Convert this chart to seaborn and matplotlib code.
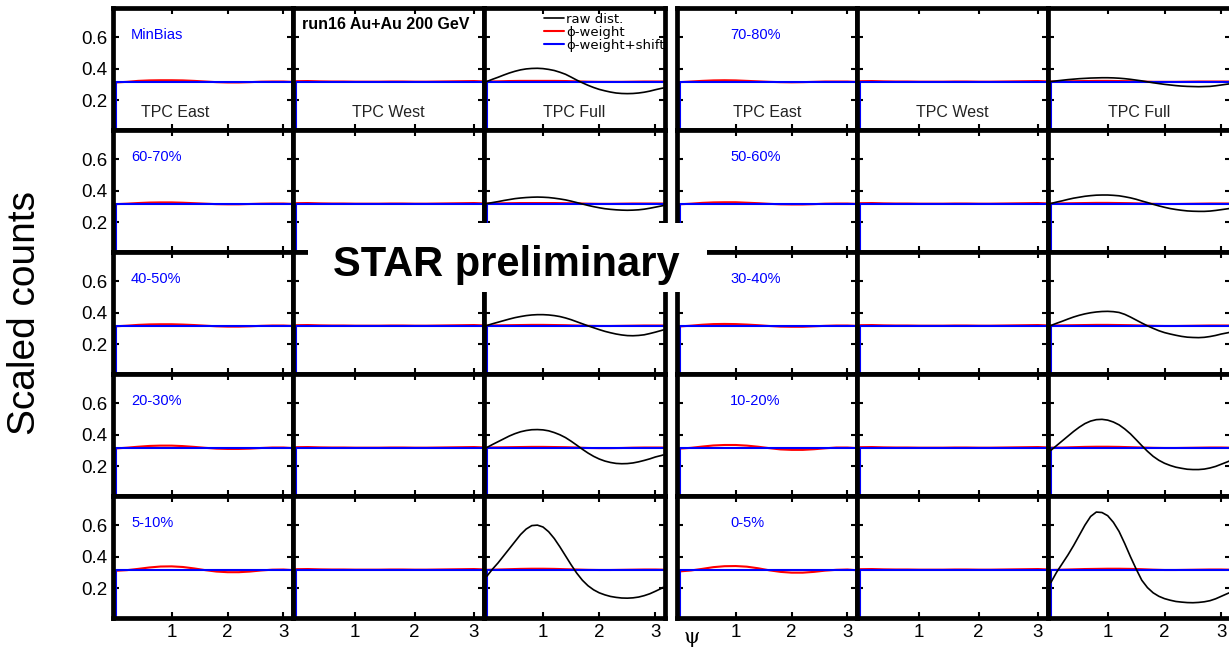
import matplotlib
matplotlib.use("Agg")
import matplotlib.pyplot as plt
import seaborn as sns
from matplotlib.patches import Rectangle
from matplotlib.lines import Line2D

sns.set_theme(style="white")
plt.rcParams['font.family'] = ['Liberation Sans', 'DejaVu Sans']
plt.rcParams.update({'axes.edgecolor': 'black', 'xtick.color': 'black', 'ytick.color': 'black',
                     'text.color': 'black', 'axes.labelcolor': 'black'})

# ---------------- data ----------------
# abscissa of the raw distributions (fine) and of the corrected ones (coarse)
x_raw = [0.0, 0.1, 0.2, 0.3, 0.4, 0.5, 0.6, 0.7, 0.8, 0.9, 1.0, 1.1, 1.2, 1.3, 1.4, 1.5, 1.6,
         1.7, 1.8, 1.9, 2.0, 2.1, 2.2, 2.3, 2.4, 2.5, 2.6, 2.7, 2.8, 2.9, 3.0, 3.1, 3.14]
x_pts = [0.0, 0.2, 0.4, 0.6, 0.8, 1.0, 1.2, 1.4, 1.6, 1.8, 2.0, 2.2, 2.4, 2.6, 2.8, 3.0, 3.14]

left_labels = ["MinBias", "60-70%", "40-50%", "20-30%", "5-10%"]
right_labels = ["70-80%", "50-60%", "30-40%", "10-20%", "0-5%"]
detector_labels = ["TPC East", "TPC West", "TPC Full"]
x_ticks = [1, 2, 3]
y_ticks = [0.2, 0.4, 0.6]

# raw distribution, TPC Full
raw_minbias = [0.318, 0.332, 0.345, 0.359, 0.372, 0.383, 0.392, 0.398, 0.401, 0.402, 0.400, 0.395, 0.388,
               0.377, 0.364, 0.346, 0.327, 0.310, 0.294, 0.280, 0.268, 0.259, 0.251, 0.245, 0.242, 0.241,
               0.242, 0.245, 0.250, 0.257, 0.266, 0.274, 0.277]
raw_60_70 = [0.318, 0.324, 0.330, 0.337, 0.343, 0.349, 0.353, 0.356, 0.358, 0.359, 0.358, 0.356, 0.352,
             0.347, 0.341, 0.333, 0.324, 0.315, 0.306, 0.298, 0.291, 0.285, 0.281, 0.278, 0.276, 0.275,
             0.276, 0.278, 0.282, 0.288, 0.295, 0.302, 0.305]
raw_40_50 = [0.318, 0.329, 0.339, 0.349, 0.359, 0.368, 0.375, 0.381, 0.385, 0.387, 0.387, 0.385, 0.381,
             0.375, 0.366, 0.355, 0.342, 0.329, 0.316, 0.304, 0.292, 0.281, 0.272, 0.264, 0.258, 0.254,
             0.253, 0.255, 0.259, 0.267, 0.276, 0.286, 0.290]
raw_20_30 = [0.318, 0.337, 0.355, 0.373, 0.391, 0.406, 0.418, 0.426, 0.431, 0.432, 0.430, 0.424, 0.413,
             0.399, 0.381, 0.358, 0.333, 0.307, 0.283, 0.262, 0.245, 0.232, 0.223, 0.217, 0.215, 0.216,
             0.220, 0.227, 0.236, 0.246, 0.258, 0.267, 0.271]
raw_5_10 = [0.275, 0.320, 0.360, 0.405, 0.450, 0.495, 0.540, 0.575, 0.597, 0.600, 0.588, 0.558, 0.515,
            0.462, 0.405, 0.348, 0.295, 0.250, 0.215, 0.189, 0.170, 0.157, 0.147, 0.141, 0.137, 0.136,
            0.138, 0.143, 0.152, 0.164, 0.180, 0.197, 0.205]
raw_70_80 = [0.318, 0.322, 0.326, 0.330, 0.333, 0.336, 0.338, 0.340, 0.341, 0.342, 0.342, 0.341, 0.339,
             0.336, 0.332, 0.327, 0.322, 0.316, 0.310, 0.305, 0.300, 0.296, 0.292, 0.289, 0.287, 0.286,
             0.285, 0.286, 0.287, 0.291, 0.296, 0.301, 0.303]
raw_50_60 = [0.318, 0.327, 0.335, 0.344, 0.352, 0.358, 0.364, 0.368, 0.371, 0.372, 0.372, 0.370, 0.367,
             0.361, 0.354, 0.345, 0.334, 0.324, 0.313, 0.303, 0.294, 0.286, 0.280, 0.275, 0.271, 0.269,
             0.268, 0.268, 0.270, 0.274, 0.279, 0.284, 0.286]
raw_30_40 = [0.318, 0.332, 0.345, 0.359, 0.372, 0.383, 0.392, 0.399, 0.404, 0.407, 0.408, 0.406, 0.401,
             0.389, 0.372, 0.353, 0.334, 0.316, 0.300, 0.285, 0.273, 0.264, 0.256, 0.249, 0.244, 0.242,
             0.241, 0.243, 0.248, 0.255, 0.264, 0.271, 0.274]
raw_10_20 = [0.300, 0.330, 0.360, 0.390, 0.420, 0.447, 0.470, 0.486, 0.495, 0.497, 0.492, 0.480, 0.462,
             0.436, 0.405, 0.368, 0.330, 0.294, 0.262, 0.237, 0.218, 0.204, 0.193, 0.186, 0.180, 0.178,
             0.178, 0.181, 0.188, 0.198, 0.212, 0.226, 0.232]
raw_0_5 = [0.235, 0.300, 0.355, 0.410, 0.470, 0.535, 0.600, 0.655, 0.683, 0.680, 0.660, 0.618, 0.560,
           0.483, 0.400, 0.322, 0.250, 0.203, 0.170, 0.148, 0.133, 0.123, 0.115, 0.111, 0.108, 0.107,
           0.109, 0.113, 0.120, 0.132, 0.148, 0.164, 0.170]

# phi-weight, TPC East
phi_east_minbias = [0.312, 0.316, 0.322, 0.325, 0.326, 0.326, 0.325, 0.322, 0.318, 0.314, 0.312, 0.312, 0.314, 0.317, 0.318, 0.318, 0.316]
phi_east_60_70 = [0.314, 0.317, 0.321, 0.324, 0.325, 0.325, 0.323, 0.320, 0.317, 0.314, 0.313, 0.313, 0.315, 0.317, 0.318, 0.318, 0.316]
phi_east_40_50 = [0.313, 0.317, 0.322, 0.325, 0.326, 0.326, 0.324, 0.321, 0.317, 0.313, 0.311, 0.311, 0.313, 0.316, 0.318, 0.318, 0.316]
phi_east_20_30 = [0.312, 0.317, 0.323, 0.328, 0.330, 0.330, 0.327, 0.322, 0.316, 0.311, 0.309, 0.309, 0.311, 0.315, 0.318, 0.318, 0.315]
phi_east_5_10 = [0.310, 0.314, 0.322, 0.331, 0.337, 0.338, 0.334, 0.325, 0.314, 0.305, 0.301, 0.301, 0.305, 0.312, 0.317, 0.318, 0.315]
phi_east_70_80 = [0.314, 0.318, 0.322, 0.325, 0.326, 0.325, 0.322, 0.319, 0.316, 0.314, 0.313, 0.314, 0.316, 0.318, 0.318, 0.318, 0.316]
phi_east_50_60 = [0.313, 0.317, 0.322, 0.325, 0.326, 0.326, 0.323, 0.320, 0.316, 0.313, 0.312, 0.312, 0.314, 0.317, 0.318, 0.318, 0.316]
phi_east_30_40 = [0.312, 0.317, 0.323, 0.327, 0.328, 0.327, 0.324, 0.320, 0.315, 0.311, 0.310, 0.310, 0.313, 0.316, 0.318, 0.318, 0.316]
phi_east_10_20 = [0.311, 0.316, 0.324, 0.331, 0.334, 0.334, 0.330, 0.323, 0.314, 0.306, 0.303, 0.303, 0.307, 0.313, 0.318, 0.318, 0.315]
phi_east_0_5 = [0.306, 0.312, 0.322, 0.333, 0.339, 0.340, 0.336, 0.326, 0.313, 0.303, 0.298, 0.298, 0.303, 0.311, 0.316, 0.318, 0.314]

# phi-weight, TPC West (same in every class)
phi_west = [0.320, 0.321, 0.319, 0.318, 0.318, 0.317, 0.317, 0.317, 0.318, 0.318, 0.317, 0.317, 0.318, 0.319, 0.320, 0.321, 0.319]

# phi-weight, TPC Full
phi_full_minbias = [0.318, 0.319, 0.321, 0.322, 0.322, 0.322, 0.322, 0.321, 0.319, 0.317, 0.316, 0.316, 0.316, 0.317, 0.318, 0.318, 0.318]
phi_full_60_70 = [0.318, 0.319, 0.320, 0.321, 0.321, 0.321, 0.321, 0.320, 0.319, 0.317, 0.316, 0.316, 0.317, 0.318, 0.318, 0.318, 0.318]
phi_full_40_50 = [0.318, 0.319, 0.320, 0.321, 0.322, 0.322, 0.321, 0.320, 0.318, 0.316, 0.315, 0.315, 0.316, 0.317, 0.318, 0.318, 0.318]
phi_full_20_30 = [0.318, 0.319, 0.320, 0.321, 0.322, 0.322, 0.321, 0.320, 0.318, 0.315, 0.314, 0.314, 0.315, 0.317, 0.318, 0.318, 0.318]
phi_full_5_10 = [0.316, 0.318, 0.320, 0.322, 0.323, 0.323, 0.322, 0.320, 0.318, 0.316, 0.315, 0.315, 0.316, 0.317, 0.318, 0.318, 0.317]
phi_full_70_80 = [0.318, 0.319, 0.320, 0.321, 0.322, 0.322, 0.321, 0.320, 0.318, 0.316, 0.316, 0.316, 0.317, 0.318, 0.318, 0.318, 0.318]
phi_full_50_60 = [0.318, 0.319, 0.320, 0.321, 0.322, 0.322, 0.321, 0.320, 0.318, 0.316, 0.315, 0.315, 0.316, 0.317, 0.318, 0.318, 0.318]
phi_full_30_40 = [0.318, 0.319, 0.320, 0.321, 0.322, 0.322, 0.321, 0.320, 0.318, 0.316, 0.315, 0.315, 0.316, 0.317, 0.318, 0.318, 0.318]
phi_full_10_20 = [0.317, 0.318, 0.320, 0.322, 0.323, 0.323, 0.322, 0.320, 0.318, 0.316, 0.315, 0.315, 0.316, 0.317, 0.318, 0.318, 0.317]
phi_full_0_5 = [0.315, 0.317, 0.319, 0.321, 0.322, 0.323, 0.323, 0.322, 0.320, 0.317, 0.315, 0.315, 0.316, 0.317, 0.318, 0.318, 0.317]

# phi-weight + shift (flat)
shift_level = [0.318, 0.318, 0.318, 0.318, 0.318, 0.318, 0.318, 0.318, 0.318, 0.318, 0.318, 0.318, 0.318, 0.318, 0.318, 0.318, 0.318]

left_raw = [raw_minbias, raw_60_70, raw_40_50, raw_20_30, raw_5_10]
right_raw = [raw_70_80, raw_50_60, raw_30_40, raw_10_20, raw_0_5]
left_east = [phi_east_minbias, phi_east_60_70, phi_east_40_50, phi_east_20_30, phi_east_5_10]
right_east = [phi_east_70_80, phi_east_50_60, phi_east_30_40, phi_east_10_20, phi_east_0_5]
left_full = [phi_full_minbias, phi_full_60_70, phi_full_40_50, phi_full_20_30, phi_full_5_10]
right_full = [phi_full_70_80, phi_full_50_60, phi_full_30_40, phi_full_10_20, phi_full_0_5]

# ---------------- layout ----------------
W, H = 1229, 648
fig = plt.figure(figsize=(W / 100, H / 100), dpi=100)
fig.patch.set_facecolor('white')

XLIM = (-0.05, 3.17)
YLIM = (0.01, 0.785)
row_top, row_bot = 8, 618
row_h = (row_bot - row_top) / 5

groups = [
    dict(edges=[113, 293, 484, 665], labels=left_labels, raw=left_raw, east=left_east, full=left_full,
         lab_x=0.10, ylab=True, east_x=0.345),
    dict(edges=[677, 857, 1048, 1231], labels=right_labels, raw=right_raw, east=right_east, full=right_full,
         lab_x=0.295, ylab=False, east_x=0.5),
]

RED = (1, 0, 0)
BLUE = (0, 0, 1)


def draw_hist(ax, xv, vals, color, lw, z, edge=True):
    xs = list(xv)
    ys = list(vals)
    if edge:
        xs = [xv[0]] + xs
        ys = [YLIM[0] - 0.1] + ys
    sns.lineplot(x=xs, y=ys, ax=ax, color=color, linewidth=lw, sort=False,
                 estimator=None, legend=False, zorder=z)


for g in groups:
    e = g['edges']
    for r in range(5):
        top = row_top + r * row_h
        for c in range(3):
            ax = fig.add_axes([e[c] / W, 1 - (top + row_h) / H, (e[c + 1] - e[c]) / W, row_h / H])
            if c == 0:
                draw_hist(ax, x_pts, g['east'][r], RED, 1.5, 2.0)
            elif c == 1:
                draw_hist(ax, x_pts, phi_west, RED, 1.5, 2.0)
            else:
                draw_hist(ax, x_pts, g['full'][r], RED, 1.5, 2.0)
            draw_hist(ax, x_pts, shift_level, BLUE, 1.5, 2.1)
            if c == 2:
                draw_hist(ax, x_raw, g['raw'][r], 'black', 1.2, 2.2, edge=False)

            ax.set_xlim(*XLIM)
            ax.set_ylim(*YLIM)
            ax.set_xticks(x_ticks)
            ax.set_yticks(y_ticks)
            ax.set_xlabel('')
            ax.set_ylabel('')
            for sp in ax.spines.values():
                sp.set_linewidth(3.4)
                sp.set_color('black')
            ax.tick_params(direction='in', length=4.5, width=1.5, top=True, right=True,
                           bottom=True, left=True, labelsize=13.5, pad=4)
            ax.tick_params(labelbottom=(r == 4), labelleft=(c == 0 and g['ylab']))
            ax.set_facecolor('white')

            if c == 0:
                ax.text(g['lab_x'], 0.78, g['labels'][r], color=BLUE, fontsize=10.5,
                        transform=ax.transAxes, ha='left', va='center')
            if r == 0:
                dx = g['east_x'] if c == 0 else 0.5
                ax.text(dx, 0.146, detector_labels[c], color='#222222', fontsize=11.5,
                        transform=ax.transAxes, ha='center', va='center')
            if r == 0 and c == 1 and g['ylab']:
                ax.text(0.047, 0.862, "run16 Au+Au 200 GeV", fontsize=11.5, fontweight='bold',
                        transform=ax.transAxes, ha='left', va='center')
            if r == 0 and c == 2 and g['ylab']:
                handles = [Line2D([], [], color='black', lw=1.2),
                           Line2D([], [], color=RED, lw=1.5),
                           Line2D([], [], color=BLUE, lw=1.5)]
                ax.legend(handles, ["raw dist.", "ϕ-weight", "ϕ-weight+shift"],
                          loc='upper left', bbox_to_anchor=(0.33, 0.96), frameon=False,
                          prop={'family': 'DejaVu Sans', 'size': 9.5}, handlelength=1.5,
                          handletextpad=0.2, labelspacing=0.0, borderpad=0.0, borderaxespad=0.0)

# STAR preliminary box
fig.add_artist(Rectangle((308 / W, 1 - 292 / H), (707 - 308) / W, (292 - 223) / H,
                         transform=fig.transFigure, facecolor='white', edgecolor='none', zorder=10))
fig.text(506 / W, 1 - 265 / H, "STAR preliminary", fontsize=30, fontweight='bold',
         ha='center', va='center', zorder=11)

# axis titles
fig.text(25 / W, 1 - 313 / H, "Scaled counts", rotation=90, fontsize=28, ha='center', va='center')
fig.text(692 / W, 1 - 647 / H, "ψ", fontsize=15, family='DejaVu Serif', ha='center', va='bottom')

fig.savefig("out.png", dpi=100, facecolor='white')
